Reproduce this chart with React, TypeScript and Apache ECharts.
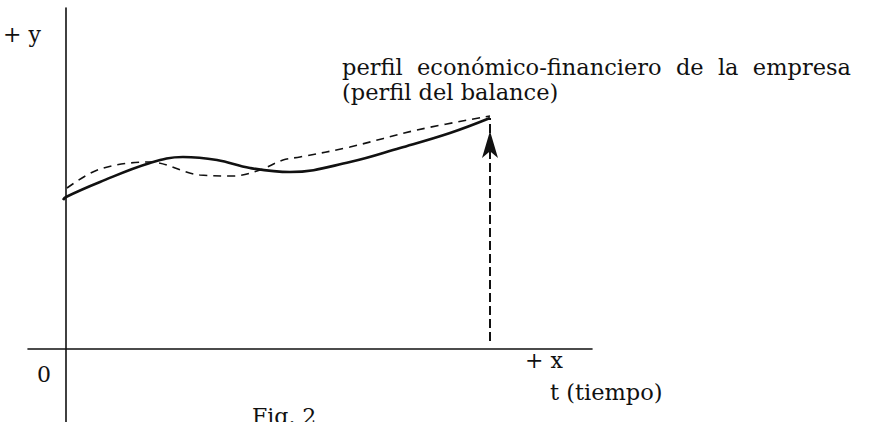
import React, { useEffect, useRef } from "react";
import * as echarts from "echarts";

// x = horizontal distance from the y axis, y = height above the x axis (chart units)
const perfilReal: [number, number][] = [
  [-3, 149], [0, 152], [34, 167], [84, 186], [117, 192], [151, 189], [184, 181],
  [224, 177], [284, 187], [334, 201], [384, 216], [424, 231],
];
const perfilBalance: [number, number][] = [
  [1, 161], [34, 180], [84, 187], [134, 174], [167, 173], [194, 179], [217, 189],
  [234, 192], [284, 202], [351, 219], [424, 233],
];
const flecha: [number, number][] = [[424, 8], [424, 231]];

const xRange = [-38, 526];
const yRange = [-73, 341];

const serif = "'DejaVu Serif', 'Liberation Serif', serif";

export default function App() {
  const ref = useRef<HTMLDivElement>(null);
  useEffect(() => {
    if (!ref.current) return;
    const chart = echarts.init(ref.current, null, { renderer: "svg" });
    const txt = (x: number, y: number, text: string, size = 22) => ({
      type: "text",
      left: x,
      top: y,
      style: { text, fill: "#111", font: `${size}px ${serif}` },
    });
    chart.setOption({
      animation: false,
      backgroundColor: "#ffffff",
      grid: { left: 28, right: 278, top: 8, bottom: 0 },
      xAxis: {
        type: "value",
        min: xRange[0],
        max: xRange[1],
        axisLine: { show: true, onZero: true, lineStyle: { color: "#111", width: 1.6 } },
        axisTick: { show: false },
        axisLabel: { show: false },
        splitLine: { show: false },
      },
      yAxis: {
        type: "value",
        min: yRange[0],
        max: yRange[1],
        axisLine: { show: true, onZero: true, lineStyle: { color: "#111", width: 1.6 } },
        axisTick: { show: false },
        axisLabel: { show: false },
        splitLine: { show: false },
      },
      series: [
        {
          type: "line",
          data: perfilReal,
          smooth: 0.4,
          showSymbol: false,
          lineStyle: { color: "#111", width: 2.6 },
        },
        {
          type: "line",
          data: perfilBalance,
          smooth: 0.35,
          showSymbol: false,
          lineStyle: { color: "#111", width: 1.6, type: [8, 6] },
        },
        {
          type: "line",
          data: [
            { value: flecha[0], symbol: "none" },
            { value: flecha[1], symbol: "arrow", symbolSize: [12, 27], symbolOffset: [0, 13] },
          ],
          showSymbol: true,
          itemStyle: { color: "#111" },
          lineStyle: { color: "#111", width: 2, type: [9, 4] },
        },
      ],
      graphic: [
        txt(3, 23, "+ y", 22),
        txt(342, 55, "perfil  económico-financiero  de  la  empresa", 22.5),
        txt(342, 80, "(perfil del balance)", 22.5),
        txt(37, 363, "0", 22),
        txt(525, 349, "+ x", 22),
        txt(550, 380, "t (tiempo)", 22.5),
        txt(252, 405, "Fig. 2", 22),
      ],
    });
    return () => chart.dispose();
  }, []);
  return <div ref={ref} style={{ width: 870, height: 422, position: "absolute", left: 0, top: 0 }} />;
}
